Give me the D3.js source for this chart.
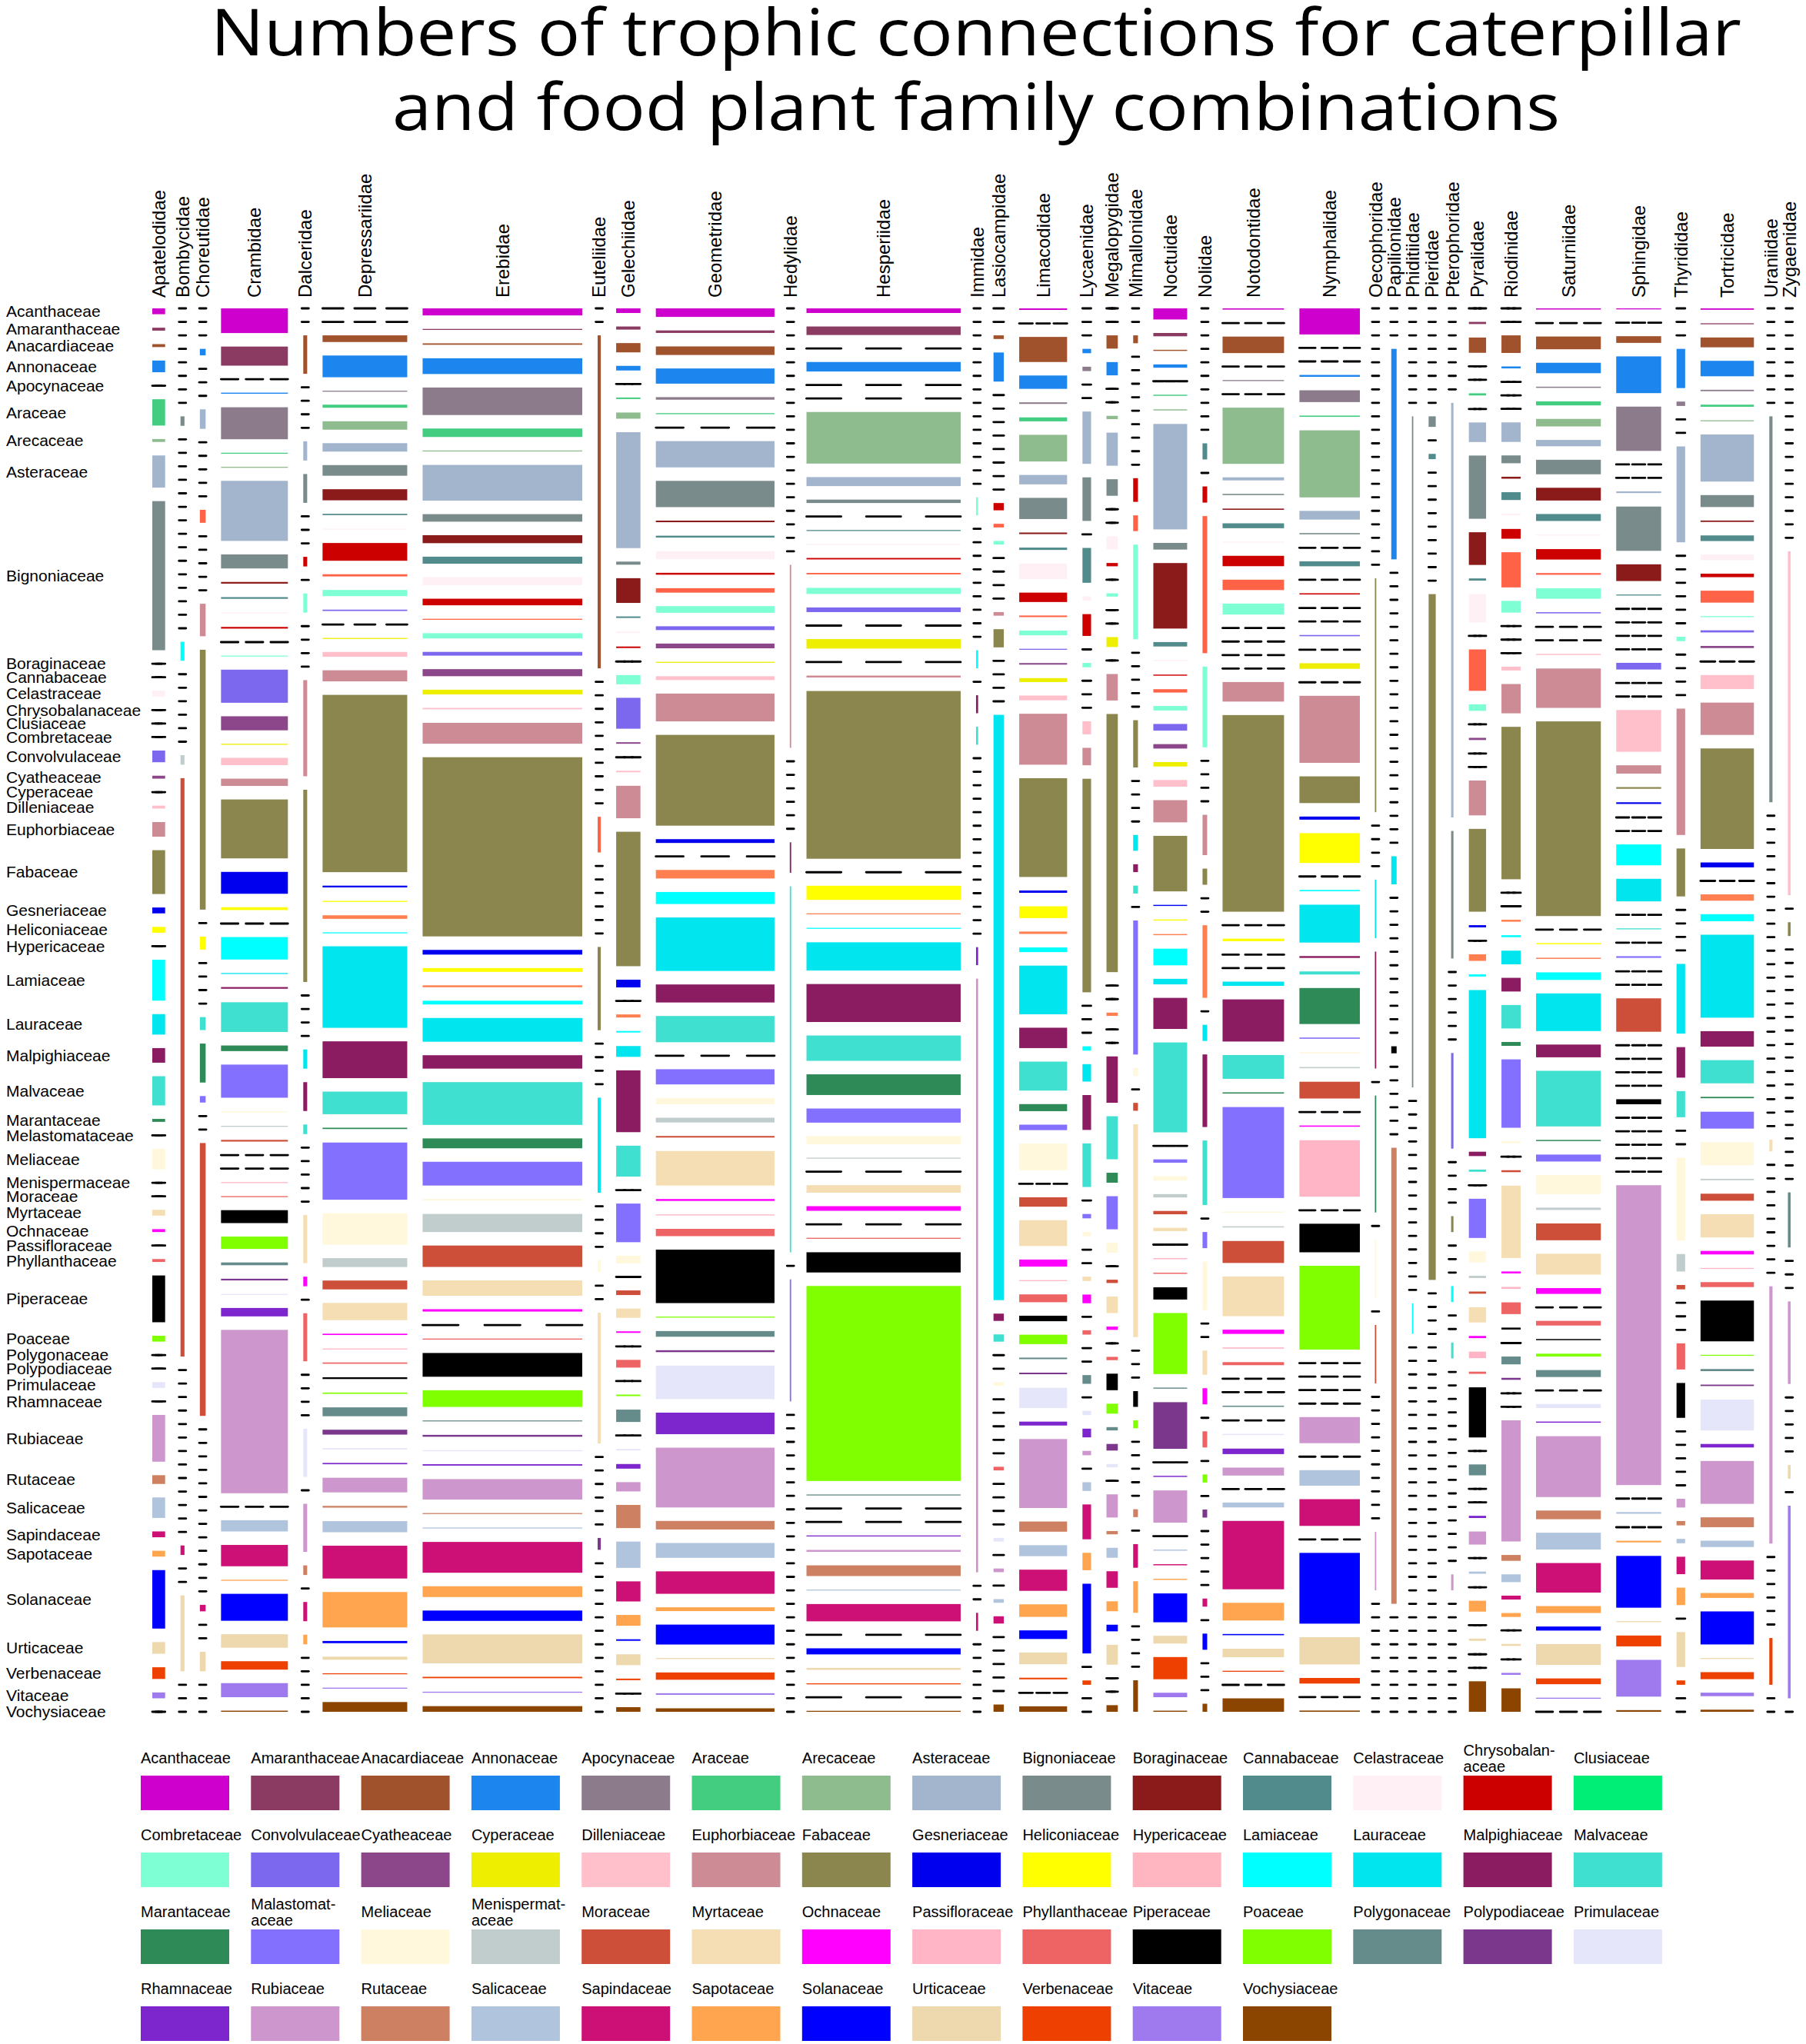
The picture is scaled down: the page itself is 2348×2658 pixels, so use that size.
<!DOCTYPE html>
<html>
<head>
<meta charset="utf-8">
<script src="https://cdn.jsdelivr.net/npm/d3@7"></script>
<style>
body { margin: 0; background: #fff; }
text { font-family: "Liberation Sans", Arial, sans-serif; fill: #000; }
.title { font-family: "Open Sans", "Liberation Sans", sans-serif; }
</style>
</head>
<body>
<script>
// Mosaic of trophic connections: caterpillar families (columns) x food plant families (rows)

const plantFamilies = ["Acanthaceae","Amaranthaceae","Anacardiaceae","Annonaceae","Apocynaceae","Araceae","Arecaceae","Asteraceae","Bignoniaceae","Boraginaceae",
  "Cannabaceae","Celastraceae","Chrysobalanaceae","Clusiaceae","Combretaceae","Convolvulaceae","Cyatheaceae","Cyperaceae","Dilleniaceae","Euphorbiaceae",
  "Fabaceae","Gesneriaceae","Heliconiaceae","Hypericaceae","Lamiaceae","Lauraceae","Malpighiaceae","Malvaceae","Marantaceae","Melastomataceae",
  "Meliaceae","Menispermaceae","Moraceae","Myrtaceae","Ochnaceae","Passifloraceae","Phyllanthaceae","Piperaceae","Poaceae","Polygonaceae",
  "Polypodiaceae","Primulaceae","Rhamnaceae","Rubiaceae","Rutaceae","Salicaceae","Sapindaceae","Sapotaceae","Solanaceae","Urticaceae",
  "Verbenaceae","Vitaceae","Vochysiaceae"]

// legend spells a few of them differently (and wraps them)
const legendNames = ["Acanthaceae","Amaranthaceae","Anacardiaceae","Annonaceae","Apocynaceae","Araceae","Arecaceae","Asteraceae","Bignoniaceae","Boraginaceae",
  "Cannabaceae","Celastraceae","Chrysobalan-|aceae","Clusiaceae","Combretaceae","Convolvulaceae","Cyatheaceae","Cyperaceae","Dilleniaceae","Euphorbiaceae",
  "Fabaceae","Gesneriaceae","Heliconiaceae","Hypericaceae","Lamiaceae","Lauraceae","Malpighiaceae","Malvaceae","Marantaceae","Malastomat-|aceae",
  "Meliaceae","Menispermat-|aceae","Moraceae","Myrtaceae","Ochnaceae","Passifloraceae","Phyllanthaceae","Piperaceae","Poaceae","Polygonaceae",
  "Polypodiaceae","Primulaceae","Rhamnaceae","Rubiaceae","Rutaceae","Salicaceae","Sapindaceae","Sapotaceae","Solanaceae","Urticaceae",
  "Verbenaceae","Vitaceae","Vochysiaceae"]

const legendColors = ["#CD00CD","#8B3A62","#A0522D","#1C86EE","#8B7B8B","#43CD80","#8FBC8F","#A2B5CD","#7A8B8B","#8B1A1A",
  "#528B8B","#FFF0F5","#CD0000","#00EE76","#7FFFD4","#7B68EE","#8B4789","#EEEE00","#FFC0CB","#CD8C95",
  "#8B864E","#0000EE","#FFFF00","#FFB6C1","#00FFFF","#00E5EE","#8B1C62","#40E0D0","#2E8B57","#8470FF",
  "#FFF8DC","#C1CDCD","#CD4F39","#F5DEB3","#FF00FF","#FFB5C5","#EE6363","#000000","#7FFF00","#668B8B",
  "#7A378B","#E6E6FA","#7D26CD","#CD96CD","#CD8162","#B0C4DE","#CD1076","#FFA54F","#0000FF","#EED8AE",
  "#EE4000","#9F79EE","#8B4500"]

// the mosaic itself uses other colours for two families than the legend does
const plotColors = legendColors.slice()
plotColors[13] = "#FF6347"  // Clusiaceae
plotColors[23] = "#FF7F50"  // Hypericaceae

const caterpillarFamilies = ["Apatelodidae","Bombycidae","Choreutidae","Crambidae","Dalceridae","Depressariidae","Erebidae","Euteliidae","Gelechiidae","Geometridae",
  "Hedylidae","Hesperiidae","Immidae","Lasiocampidae","Limacodidae","Lycaenidae","Megalopygidae","Mimallonidae","Noctuidae","Nolidae",
  "Notodontidae","Nymphalidae","Oecophoridae","Papilionidae","Phiditiidae","Pieridae","Pterophoridae","Pyralidae","Riodinidae","Saturniidae",
  "Sphingidae","Thyrididae","Tortricidae","Uraniidae","Zygaenidae"]

// one row per caterpillar family, 53 plant families in the order above (estimated from the figure)
const connections = [
  [2,1,1,4,0,9,1,11,51,0, 0,2,0,0,0,4,1,0,1,5, 15,2,2,0,14,7,5,10,1,0, 7,0,0,2,1,0,1,16,2,0, 0,2,0,16,3,7,2,2,20,4, 4,2,0], // Apatelodidae
  [0,0,0,0,0,0,0,0,1,0, 0,0,0,0,0,0,0,0,0,0, 0,0,0,0,2,0,0,0,0,0, 0,1,61,0,0,0,0,0,0,0, 0,0,0,0,0,0,1,0,0,8, 0,0,0], // Bombycidae
  [0,0,0,1,0,0,0,3,0,0, 0,0,0,2,0,0,0,0,0,5, 40,0,2,0,0,0,0,2,6,1, 0,0,42,0,0,0,0,0,0,0, 0,0,0,0,0,0,1,0,0,3, 0,0,0], // Choreutidae
  [44,34,0,2,57,1,1,107,25,3, 3,2,3,0,1,59,25,1,13,13, 105,39,5,0,40,1,3,53,10,59, 2,1,3,0,0,1,1,23,22,5, 3,1,15,291,0,20,38,1,48,24, 15,25,2], // Crambidae
  [0,0,4,0,0,0,0,2,3,0, 0,0,1,0,2,0,0,0,0,10, 20,0,0,0,0,2,3,1,0,0, 0,0,0,5,1,0,5,0,0,0, 0,5,0,5,1,0,2,1,0,0, 0,0,0], // Dalceridae
  [0,0,15,49,1,7,19,19,24,25, 3,2,40,5,14,3,0,1,11,25, 400,4,2,8,1,184,83,51,3,129, 71,20,20,39,3,1,3,4,3,20, 11,3,3,33,4,25,74,80,5,7, 2,2,22], // Depressariidae
  [30,4,6,67,117,36,4,152,32,34, 30,34,28,4,22,16,30,20,6,89, 762,20,16,8,16,101,57,182,42,101, 6,77,91,65,10,0,4,101,71,4, 8,2,6,87,4,4,131,46,44,123, 6,4,24], // Erebidae
  [0,0,28,0,0,0,0,0,0,0, 0,0,0,3,0,0,0,0,0,0, 7,0,0,0,0,8,0,0,0,0, 1,0,0,11,0,0,0,0,0,0, 1,0,0,0,0,0,0,0,0,0, 0,0,0], // Euteliidae
  [3,2,6,3,0,1,4,75,2,16, 1,1,1,0,6,20,1,0,1,21, 87,5,0,2,1,7,40,20,0,25, 5,0,3,6,1,0,5,0,1,8, 0,1,3,6,15,17,13,7,1,7, 1,0,3], // Gelechiidae
  [27,8,27,48,8,3,0,83,83,5, 6,26,6,14,21,12,15,3,12,88, 287,12,0,27,38,169,57,83,0,48, 20,15,5,109,6,3,23,169,3,18, 6,106,68,189,27,47,71,12,63,3, 23,5,11], // Geometridae
  [0,0,0,0,0,0,0,0,0,0, 0,0,0,0,0,0,0,0,0,6, 0,0,0,0,0,0,1,12,0,4, 0,0,0,0,0,0,0,0,0,0, 0,0,0,0,0,0,0,0,0,0, 0,0,0], // Hedylidae
  [19,35,0,39,0,0,212,37,14,0, 2,2,6,6,25,19,0,39,0,8, 689,0,58,4,4,116,156,104,85,58, 33,2,0,31,19,0,4,83,801,2, 0,0,4,8,44,4,71,0,25,8, 2,0,4], // Hesperiidae
  [0,0,0,0,0,0,0,0,0,0, 0,0,0,0,1,0,0,0,0,0, 0,0,0,0,1,0,1,1,0,0, 0,0,0,0,0,0,0,0,0,0, 0,0,1,33,0,0,1,0,0,0, 0,0,0], // Immidae
  [0,0,1,8,0,0,0,0,0,0, 0,0,2,1,1,0,0,0,0,1, 5,0,0,0,0,161,2,2,0,0, 1,0,0,0,0,0,1,0,0,0, 0,1,0,1,0,1,2,0,0,0, 0,0,2], // Lasiocampidae
  [2,0,32,17,2,5,34,12,27,2, 3,20,12,2,6,1,2,5,6,65, 126,3,15,3,6,62,26,37,9,7, 34,0,12,33,9,1,10,7,12,2, 2,26,5,88,13,14,27,16,11,15, 2,0,7], // Limacodidae
  [0,0,0,1,1,0,0,12,10,0, 8,1,5,0,1,0,0,0,3,4, 49,0,0,0,1,4,8,10,0,1, 1,0,0,1,2,0,1,0,0,2, 0,1,2,1,0,2,8,4,16,0, 1,0,0], // Lycaenidae
  [0,0,4,4,0,0,1,10,5,0, 0,4,1,0,1,0,0,3,0,8, 78,0,0,1,0,0,14,13,3,10, 3,0,1,5,1,0,1,5,3,1, 2,1,0,7,1,3,5,3,2,6, 0,0,2], // Megalopygidae
  [0,0,1,0,0,0,0,0,0,0, 0,0,3,2,12,0,0,0,0,0, 6,0,0,0,0,2,1,1,0,17, 1,0,1,27,0,0,0,2,1,0, 0,0,0,0,1,0,3,4,0,0, 0,0,4], // Mimallonidae
  [10,3,1,3,0,1,1,95,6,59, 4,1,1,3,4,6,4,4,6,20, 50,1,1,1,15,5,28,81,0,3, 4,3,3,3,0,1,1,11,55,1, 42,0,1,29,0,1,1,1,26,7, 20,4,1], // Noctuidae
  [0,0,0,0,0,0,0,0,0,0, 2,0,2,17,10,0,0,0,0,5, 2,0,0,9,0,2,9,8,0,2, 6,0,0,3,2,0,2,0,1,0, 1,0,0,0,0,0,1,0,2,0, 0,0,1], // Nolidae
  [2,0,27,0,1,0,92,5,2,2, 8,1,17,17,18,0,0,0,0,32, 322,0,4,0,0,7,69,39,2,149, 2,2,36,65,7,2,5,0,0,2, 0,2,9,13,0,8,112,29,2,14, 1,0,22], // Notodontidae
  [42,0,0,3,19,2,108,14,2,0, 8,0,2,0,0,2,0,9,0,108, 43,5,48,0,2,61,3,5,58,2, 2,2,27,0,2,91,0,46,135,0, 0,0,0,42,0,25,43,0,114,44, 9,0,2], // Nymphalidae
  [0,0,0,0,0,0,0,0,0,0, 0,0,0,0,0,0,0,0,0,0, 4,0,0,0,0,1,2,0,2,0, 1,0,1,0,0,0,0,0,0,0, 0,0,0,1,0,0,0,0,0,0, 0,0,0], // Oecophoridae
  [0,0,0,30,0,0,0,0,0,0, 0,0,0,0,0,0,0,0,0,0, 0,0,0,0,0,4,0,0,0,0, 0,0,0,0,0,0,0,1,0,0, 0,0,0,0,65,0,0,0,0,0, 0,0,0], // Papilionidae
  [0,0,0,0,0,0,0,0,22,0, 0,0,0,0,0,0,0,0,0,0, 0,0,0,0,1,0,0,0,0,0, 0,0,0,0,0,0,0,0,0,0, 0,0,0,0,0,0,0,0,0,0, 0,0,0], // Phiditiidae
  [0,0,0,0,0,0,0,0,2,0, 1,0,0,0,0,0,0,0,0,0, 130,0,0,0,0,0,0,0,0,0, 0,0,0,0,0,0,0,0,0,0, 0,0,0,0,0,0,0,0,0,0, 0,0,0], // Pieridae
  [0,0,0,0,0,0,0,26,8,0, 0,0,0,0,0,6,0,0,0,0, 1,0,0,0,1,0,0,1,0,0, 0,0,0,0,0,0,0,0,0,0, 0,0,0,1,0,0,0,0,0,0, 0,0,0], // Pterophoridae
  [0,1,7,0,0,1,0,9,29,15, 1,13,0,19,3,0,1,0,0,16, 38,1,0,3,1,68,2,1,0,18, 5,1,1,7,1,3,1,23,0,5, 0,0,1,6,0,1,0,5,0,1, 0,0,14], // Pyralidae
  [0,0,9,1,0,0,0,10,4,1, 4,1,5,18,6,0,0,0,2,15, 78,0,0,1,1,7,7,12,2,35, 1,0,1,37,1,1,6,1,0,4, 1,0,0,62,3,4,2,2,0,1, 0,1,12], // Riodinidae
  [2,0,22,18,2,7,13,11,25,22, 12,2,18,3,18,2,0,0,2,68, 336,0,2,2,13,65,22,96,2,12, 33,4,29,36,10,0,8,2,5,12, 0,7,2,105,15,29,51,12,7,36, 10,1,0], // Saturniidae
  [1,0,8,44,53,0,0,2,53,20, 1,0,0,0,0,8,0,0,50,10, 2,2,0,0,25,27,0,1,0,2, 0,0,40,0,0,0,0,6,0,0, 0,0,0,359,0,2,0,2,62,1, 13,44,2], // Sphingidae
  [0,0,0,9,1,0,0,22,0,0, 0,0,0,0,1,0,0,0,0,29, 11,0,0,0,0,16,7,6,0,0, 19,4,1,0,0,0,6,8,0,0, 0,0,0,2,1,1,4,4,0,8, 1,0,0], // Thyrididae
  [2,1,14,22,2,3,1,67,17,2, 8,8,5,17,1,3,3,0,20,46, 143,7,0,9,10,118,22,33,2,24, 33,2,10,33,5,1,7,58,1,3, 2,44,5,61,14,9,27,7,47,1, 10,5,3], // Tortricidae
  [0,0,0,0,0,0,0,0,33,0, 0,0,0,0,0,0,0,0,0,0, 0,0,0,0,0,0,0,0,0,0, 0,0,0,1,0,0,0,0,0,0, 0,0,0,22,0,0,0,0,0,0, 4,0,0], // Uraniidae
  [0,0,0,0,0,0,0,0,0,0, 0,0,0,0,0,0,0,0,25,0, 1,0,0,0,0,0,0,0,0,0, 0,0,0,0,0,0,0,0,0,4, 0,0,0,6,0,0,0,0,0,1, 0,14,0]  // Zygaenidae
]

const titleLines = ["Numbers of trophic connections for caterpillar", "and food plant family combinations"]
// measured widths of the two title lines in the figure
const titleWidths = [1990, 1518]

// ---- layout
var width = 2348, height = 2658
var plot = {left: 198, right: 2328, top: 401, bottom: 2226}
var colGap = 20, rowGap = 17.55

connections.forEach(function(c, j) {
  if (c.length != plantFamilies.length) console.log("bad row", caterpillarFamilies[j], c.length)
})

var totals = connections.map(function(c) { return d3.sum(c) })
var grand = d3.sum(totals)

var xw = d3.scaleLinear()
  .domain([0, grand])
  .range([0, (plot.right - plot.left) - colGap * (caterpillarFamilies.length - 1)])
var cellSpan = (plot.bottom - plot.top) - rowGap * (plantFamilies.length - 1)

// stack the cells of every column
var cols = []
var cx = plot.left
connections.forEach(function(c, j) {
  var w = xw(totals[j])
  var y = d3.scaleLinear().domain([0, totals[j]]).range([0, cellSpan])
  var yy = plot.top
  var cells = c.map(function(n, i) {
    var cell = {n: n, i: i, y0: yy, h: y(n)}
    yy += cell.h + rowGap
    return cell
  })
  cols.push({name: caterpillarFamilies[j], x: cx, w: w, cells: cells})
  cx += w + colGap
})

var svg = d3.select("body").append("svg")
  .attr("width", width)
  .attr("height", height)

svg.append("rect").attr("width", width).attr("height", height).attr("fill", "#fff")

// ---- title
svg.append("g").selectAll("text")
  .data(titleLines)
  .enter().append("text")
  .attr("class", "title")
  .attr("x", 1269)
  .attr("y", function(d, i) { return 72 + i * 97 })
  .attr("text-anchor", "middle")
  .attr("textLength", function(d, i) { return titleWidths[i] })
  .attr("lengthAdjust", "spacingAndGlyphs")
  .style("font-size", "84px")
  .text(function(d) { return d })

// ---- mosaic
var colG = svg.append("g").selectAll("g")
  .data(cols)
  .enter().append("g")

colG.selectAll("rect")
  .data(function(d) { return d.cells.filter(function(c) { return c.n > 0 }).map(function(c) { return {col: d, c: c} }) })
  .enter().append("rect")
  .attr("x", function(d) { return d.col.w < 1.8 ? d.col.x + d.col.w / 2 - 0.9 : d.col.x })
  .attr("width", function(d) { return Math.max(d.col.w, 1.8) })
  .attr("y", function(d) { return d.c.y0 })
  .attr("height", function(d) { return Math.max(d.c.h, 1.3) })
  .attr("fill", function(d) { return plotColors[d.c.i] })

// empty cells are drawn as a dashed black line
function dashSegs(x, w) {
  if (w < 14) {
    var c = x + w / 2, half = Math.max(w / 2, 4.5)
    return [[c - half, c + half]]
  }
  var L = w * 0.2 + 5
  return [[x, x + L], [x + w / 2 - L / 2, x + w / 2 + L / 2], [x + w - L, x + w]]
}

colG.selectAll("line")
  .data(function(d) {
    var segs = []
    d.cells.forEach(function(c) {
      if (c.n == 0) dashSegs(d.x, d.w).forEach(function(s) { segs.push({x1: s[0], x2: s[1], y: c.y0}) })
    })
    return segs
  })
  .enter().append("line")
  .attr("x1", function(d) { return d.x1 })
  .attr("x2", function(d) { return d.x2 })
  .attr("y1", function(d) { return d.y })
  .attr("y2", function(d) { return d.y })
  .attr("stroke", "#000")
  .attr("stroke-width", 2.8)
  .attr("stroke-linecap", "round")

// ---- caterpillar family labels (rotated, above the columns)
svg.append("g").selectAll("text")
  .data(cols)
  .enter().append("text")
  .attr("transform", function(d) { return "translate(" + (d.x + d.w / 2) + ",387) rotate(-90)" })
  .attr("dy", "0.35em")
  .style("font-size", "24px")
  .text(function(d) { return d.name })

// ---- plant family labels, placed at the cells of the first column (as mosaicplot does)
svg.append("g").selectAll("text")
  .data(cols[0].cells)
  .enter().append("text")
  .attr("x", 8)
  .attr("y", function(d) { return d.y0 + d.h / 2 })
  .attr("dy", "0.35em")
  .style("font-size", "21px")
  .text(function(d) { return plantFamilies[d.i] })

// ---- legend
var legX = 183, legStep = 143.3, legRow = 100, legTop = 2309
var leg = svg.append("g").selectAll("g")
  .data(legendNames)
  .enter().append("g")
  .attr("transform", function(d, i) { return "translate(" + (legX + (i % 14) * legStep) + "," + (legTop + Math.floor(i / 14) * legRow) + ")" })

leg.append("rect")
  .attr("width", 115)
  .attr("height", 45)
  .attr("fill", function(d, i) { return legendColors[i] })

leg.each(function(d) {
  var parts = d.split("|")
  var t = d3.select(this).append("text")
    .style("font-size", "20px")
  parts.forEach(function(p, k) {
    t.append("tspan")
      .attr("x", 0)
      .attr("y", parts.length == 1 ? -16 : -26 + k * 21)
      .text(p)
  })
})
</script>
</body>
</html>
